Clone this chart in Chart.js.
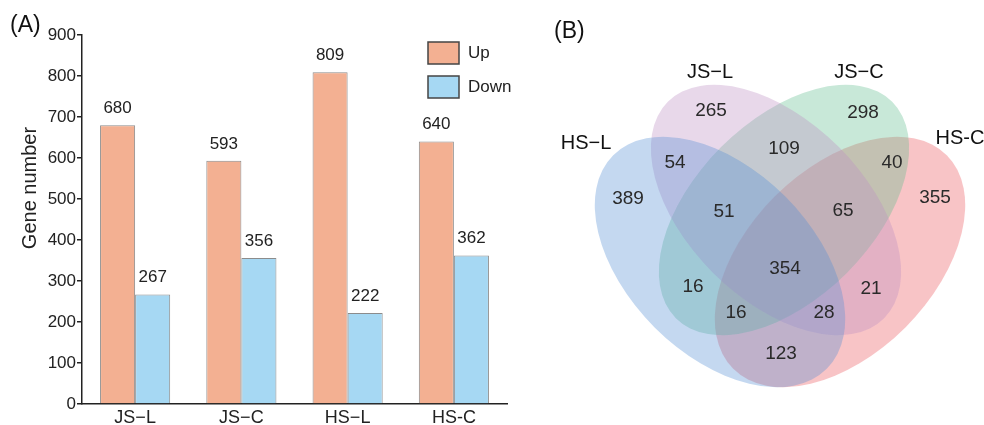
<!DOCTYPE html>
<html>
<head>
<meta charset="utf-8">
<title>Gene number / Venn</title>
<script src="https://cdn.jsdelivr.net/npm/chart.js@4.4.1/dist/chart.umd.min.js"></script>
<style>
  html, body { margin: 0; padding: 0; background: #fff; }
  body { width: 984px; height: 425px; position: relative; overflow: hidden; font-family: Arial, "Liberation Sans", sans-serif; }
  #barBox { position: absolute; left: 0; top: 0; width: 540px; height: 425px; }
  #vennBox { position: absolute; left: 540px; top: 0; width: 444px; height: 425px; }
  .panel { position: absolute; font-size: 23px; color: #111; line-height: 26px; }
</style>
</head>
<body>
<div id="barBox"><canvas id="bars"></canvas></div>
<div id="vennBox"><canvas id="venn"></canvas></div>
<div class="panel" style="left:10px; top:11px">(A)</div>
<div class="panel" style="left:554px; top:17px">(B)</div>
<script>
// ---- panel A data
const categories = ['JS\u2212L', 'JS\u2212C', 'HS\u2212L', 'HS-C'];
const seriesNames = ['Up', 'Down'];
const upGenes = [680, 593, 809, 640];
const downGenes = [267, 356, 222, 362];
const yTicks = [0, 100, 200, 300, 400, 500, 600, 700, 800, 900];

// ---- panel B data
const setNames = ['JS\u2212L', 'JS\u2212C', 'HS\u2212L', 'HS-C'];
const setNameX = [-0.70, 0.79, -1.94, 1.80];
const setNameY = [3.53, 3.53, 2.82, 2.87];
const regionCounts = [265, 298, 109, 54, 40, 389, 355, 51, 65, 354, 16, 21, 16, 28, 123];
const regionX = [-0.69, 0.83, 0.04, -1.05, 1.12, -1.52, 1.55, -0.56, 0.63, 0.05, -0.87, 0.91, -0.44, 0.44, 0.01];
const regionY = [3.14, 3.12, 2.76, 2.62, 2.62, 2.26, 2.27, 2.13, 2.14, 1.56, 1.38, 1.36, 1.12, 1.12, 0.71];

const upColor = '#F3B092';
const downColor = '#A6D8F3';
const ink = '#222';

// ellipse shapes for the venn (data units, angle in y-up degrees), drawn in this order
const ellipses = [
  { name: 'HS-C', cx: 0.60, cy: 1.63, a: 1.51, b: 0.925, angle: 45, color: '235,86,92' },
  { name: 'JS-C', cx: 0.04, cy: 2.15, a: 1.53, b: 0.89, angle: 45, color: '98,189,144' },
  { name: 'JS-L', cx: -0.04, cy: 2.15, a: 1.53, b: 0.89, angle: -45, color: '189,144,195' },
  { name: 'HS-L', cx: -0.60, cy: 1.63, a: 1.51, b: 0.925, angle: -45, color: '86,144,212' }
];

const valueLabels = {
  id: 'valueLabels',
  afterDatasetsDraw(chart) {
    const ctx = chart.ctx;
    ctx.save();
    ctx.font = '17px Arial, "Liberation Sans", sans-serif';
    ctx.fillStyle = ink;
    ctx.textAlign = 'center';
    ctx.textBaseline = 'middle';
    chart.data.datasets.forEach((ds, i) => {
      chart.getDatasetMeta(i).data.forEach((bar, j) => {
        ctx.fillText(ds.data[j], bar.x, bar.y - 17);
      });
    });
    ctx.restore();
  }
};

const boxLegend = {
  id: 'boxLegend',
  afterDraw(chart) {
    const ctx = chart.ctx;
    ctx.save();
    ctx.font = '17px Arial, "Liberation Sans", sans-serif';
    ctx.textBaseline = 'middle';
    chart.data.datasets.forEach((ds, i) => {
      const y = 42 + i * 34;
      ctx.fillStyle = ds.backgroundColor;
      ctx.fillRect(428, y, 31, 22);
      ctx.strokeStyle = '#444';
      ctx.lineWidth = 1.5;
      ctx.strokeRect(428, y, 31, 22);
      ctx.fillStyle = ink;
      ctx.fillText(ds.label, 468, y + 11);
    });
    ctx.restore();
  }
};

const yTitle = {
  id: 'yTitle',
  afterDraw(chart) {
    const ctx = chart.ctx;
    ctx.save();
    ctx.translate(30, 188);
    ctx.rotate(-Math.PI / 2);
    ctx.font = '20px Arial, "Liberation Sans", sans-serif';
    ctx.fillStyle = ink;
    ctx.textAlign = 'center';
    ctx.textBaseline = 'middle';
    ctx.fillText('Gene number', 0, 0);
    ctx.restore();
  }
};

new Chart(document.getElementById('bars'), {
  type: 'bar',
  data: {
    labels: categories,
    datasets: [
      { label: seriesNames[0], data: upGenes, backgroundColor: upColor, borderColor: '#8c8c8c', borderWidth: 1 },
      { label: seriesNames[1], data: downGenes, backgroundColor: downColor, borderColor: '#8c8c8c', borderWidth: 1 }
    ]
  },
  options: {
    responsive: true,
    maintainAspectRatio: false,
    animation: false,
    devicePixelRatio: 1,
    layout: { padding: { left: 0, top: 35, right: 33, bottom: 0 } },
    datasets: { bar: { categoryPercentage: 0.66, barPercentage: 1 } },
    plugins: { legend: { display: false }, tooltip: { enabled: false } },
    scales: {
      x: {
        grid: { display: false, drawTicks: false },
        border: { display: true, color: ink, width: 1.5 },
        ticks: { color: ink, padding: 3, font: { size: 18, family: 'Arial, "Liberation Sans", sans-serif' } },
        afterFit: s => { s.height = 21; }
      },
      y: {
        min: 0,
        max: 900,
        afterBuildTicks: s => { s.ticks = yTicks.map(v => ({ value: v })); },
        grid: { display: true, drawOnChartArea: false, drawTicks: true, tickLength: 5, color: ink, lineWidth: 1.5 },
        border: { display: true, color: ink, width: 1.5 },
        ticks: { color: ink, padding: 1, font: { size: 17, family: 'Arial, "Liberation Sans", sans-serif' } },
        afterFit: s => { s.width = 82; }
      }
    }
  },
  plugins: [valueLabels, boxLegend, yTitle]
});

// ---- venn
const ellipseLayer = {
  id: 'ellipseLayer',
  beforeDatasetsDraw(chart) {
    const ctx = chart.ctx;
    const xs = chart.scales.x, ys = chart.scales.y;
    const ux = xs.getPixelForValue(1) - xs.getPixelForValue(0);
    const uy = ys.getPixelForValue(0) - ys.getPixelForValue(1);
    ctx.save();
    ellipses.forEach(e => {
      ctx.save();
      ctx.translate(xs.getPixelForValue(e.cx), ys.getPixelForValue(e.cy));
      // canvas y goes down, so flip the angle
      ctx.rotate(-e.angle * Math.PI / 180);
      ctx.beginPath();
      ctx.ellipse(0, 0, e.a * ux, e.b * uy, 0, 0, Math.PI * 2);
      ctx.fillStyle = 'rgba(' + e.color + ',0.35)';
      ctx.fill();
      ctx.restore();
    });
    ctx.restore();
  }
};

const vennText = {
  id: 'vennText',
  afterDatasetsDraw(chart) {
    const ctx = chart.ctx;
    ctx.save();
    ctx.textAlign = 'center';
    ctx.textBaseline = 'middle';
    ctx.fillStyle = '#2a2a2a';
    ctx.font = '19px Arial, "Liberation Sans", sans-serif';
    chart.getDatasetMeta(0).data.forEach((pt, i) => {
      ctx.fillText(regionCounts[i], pt.x, pt.y);
    });
    ctx.fillStyle = '#111';
    ctx.font = '20px Arial, "Liberation Sans", sans-serif';
    chart.getDatasetMeta(1).data.forEach((pt, i) => {
      ctx.fillText(setNames[i], pt.x, pt.y);
    });
    ctx.restore();
  }
};

new Chart(document.getElementById('venn'), {
  type: 'scatter',
  data: {
    datasets: [
      { label: 'regions', data: regionX.map((x, i) => ({ x: x, y: regionY[i] })), pointRadius: 0 },
      { label: 'sets', data: setNameX.map((x, i) => ({ x: x, y: setNameY[i] })), pointRadius: 0 }
    ]
  },
  options: {
    responsive: true,
    maintainAspectRatio: false,
    animation: false,
    devicePixelRatio: 1,
    layout: { padding: 0 },
    plugins: { legend: { display: false }, tooltip: { enabled: false } },
    scales: {
      x: { type: 'linear', min: -2.4, max: 2.04, display: false },
      y: { type: 'linear', min: 0, max: 4.25, display: false }
    }
  },
  plugins: [ellipseLayer, vennText]
});
</script>
</body>
</html>
